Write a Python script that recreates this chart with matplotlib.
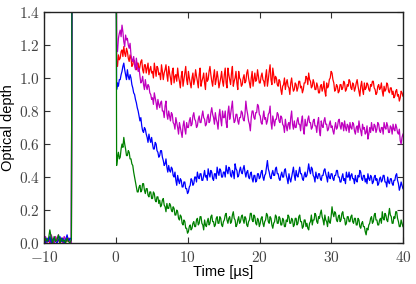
import numpy as np
import matplotlib
matplotlib.use("Agg")
import matplotlib.pyplot as plt
from matplotlib.ticker import FuncFormatter, MultipleLocator

plt.rcParams['mathtext.fontset'] = 'cm'
plt.rcParams['font.family'] = ['Liberation Sans', 'DejaVu Sans']

# time axis pieces (µs)
t_pre = [-10.0 + 0.2 * i for i in range(20)]
t_jump = [-6.05, -0.02]          # trace saturates (off scale) between these
t_post = [0.1 + 0.125 * i for i in range(320)]
HIGH = 3.0

red_pre = [0.00,0.02,0.01,0.03,0.00,0.02,0.01,0.00,0.03,0.01,0.02,0.00,0.01,0.03,0.00,0.02,0.01,0.03,0.01,0.02]
mag_pre = [0.01,0.04,0.00,0.03,0.01,0.05,0.02,0.00,0.04,0.02,0.05,0.01,0.03,0.00,0.04,0.02,0.03,0.01,0.02,0.00]
blue_pre = [0.02,0.00,0.03,0.01,0.04,0.00,0.02,0.03,0.01,0.00,0.02,0.04,0.01,0.03,0.00,0.02,0.05,0.01,0.03,0.02]
green_pre = [0.00,0.03,0.01,0.02,0.08,0.03,0.00,0.04,0.01,0.02,0.05,0.00,0.03,0.01,0.02,0.00,0.03,0.01,0.00,0.02]

red_post = [
    1.10,1.07,1.14,1.11,1.12,1.16,1.17,1.13,1.19,1.15,1.13,1.18,1.16,1.12,1.10,1.14,1.12,1.07,1.08,1.11,
    1.10,1.06,1.05,1.09,1.09,1.04,1.07,1.10,1.11,1.05,1.03,1.08,1.08,1.03,1.06,1.09,1.02,1.05,1.07,1.03,
    1.04,1.00,1.09,1.05,1.01,1.07,1.06,1.02,1.03,0.99,1.08,1.04,0.99,1.03,1.05,1.08,1.02,0.98,1.07,1.03,
    1.00,0.96,1.04,1.06,0.97,1.01,1.02,0.98,1.06,1.01,0.98,0.94,1.01,1.04,0.95,0.99,1.03,1.07,0.99,0.96,
    1.04,1.00,0.97,0.94,1.00,1.03,0.96,0.99,1.05,1.01,0.98,0.94,1.02,1.06,0.95,0.98,1.00,1.03,0.97,0.93,
    1.03,0.98,0.99,1.04,1.07,1.02,0.98,0.95,1.01,1.05,0.96,0.99,1.04,1.00,0.94,0.97,1.00,1.04,0.98,0.95,
    1.02,1.06,0.97,0.94,1.06,1.02,0.99,0.96,1.03,1.07,0.95,0.98,1.00,1.04,0.97,0.93,1.04,1.00,0.99,0.95,
    0.96,1.00,1.02,0.97,0.98,1.03,1.05,1.00,0.97,0.94,1.00,1.04,0.95,0.99,1.03,0.98,0.99,1.05,1.01,0.97,
    0.97,1.01,1.03,0.99,0.98,0.95,1.01,1.05,0.95,0.99,1.04,1.08,0.99,0.96,1.06,1.02,0.97,1.01,1.00,0.96,
    0.95,0.99,0.98,0.93,0.90,0.95,0.96,1.00,0.93,0.97,0.99,0.95,0.94,0.90,0.97,1.00,0.95,0.92,0.93,0.97,
    0.96,0.92,0.94,0.98,0.98,0.94,0.95,0.91,0.93,0.97,0.97,1.01,1.00,0.96,1.03,0.99,0.98,0.94,0.95,0.99,
    0.97,0.93,0.93,0.97,0.95,0.91,0.91,0.95,0.96,0.92,0.94,0.98,0.92,0.89,0.97,0.94,0.95,0.99,1.00,1.04,
    1.03,0.99,0.97,0.92,0.93,0.96,0.95,0.91,0.92,0.96,0.96,0.93,0.94,0.98,0.97,0.92,0.93,0.96,0.95,0.99,
    0.98,0.94,0.93,0.97,0.96,0.92,0.94,0.97,0.99,0.95,0.92,0.89,0.95,0.98,0.93,0.90,0.97,0.93,0.94,0.97,
    0.96,0.93,0.92,0.96,0.95,0.98,0.98,0.94,0.93,0.90,0.91,0.95,0.96,0.93,0.94,0.97,0.92,0.89,0.95,0.92,
    0.93,0.97,0.96,0.92,0.91,0.94,0.94,0.90,0.92,0.88,0.89,0.92,0.93,0.89,0.90,0.86,0.88,0.92,0.91,0.89]

mag_post = [
    1.20,1.16,1.24,1.27,1.29,1.25,1.32,1.28,1.22,1.19,1.26,1.23,1.24,1.20,1.18,1.21,1.14,1.11,1.10,1.13,
    1.08,1.05,1.12,1.07,1.04,1.06,1.01,0.97,0.98,1.01,0.96,0.93,0.99,0.95,0.93,0.96,0.95,0.91,0.90,0.87,
    0.88,0.84,0.91,0.88,0.85,0.81,0.87,0.84,0.82,0.85,0.86,0.80,0.80,0.76,0.83,0.86,0.78,0.75,0.80,0.77,
    0.74,0.79,0.78,0.73,0.72,0.69,0.76,0.73,0.70,0.66,0.73,0.70,0.67,0.64,0.71,0.74,0.69,0.66,0.73,0.70,
    0.70,0.74,0.76,0.71,0.72,0.77,0.79,0.75,0.74,0.70,0.71,0.75,0.77,0.73,0.73,0.77,0.80,0.76,0.75,0.71,
    0.72,0.76,0.78,0.73,0.74,0.79,0.82,0.78,0.76,0.72,0.79,0.75,0.73,0.69,0.77,0.81,0.75,0.71,0.80,0.76,
    0.76,0.80,0.73,0.70,0.79,0.83,0.75,0.78,0.82,0.86,0.77,0.73,0.74,0.78,0.78,0.74,0.72,0.76,0.76,0.80,
    0.79,0.75,0.74,0.78,0.86,0.81,0.78,0.74,0.72,0.68,0.76,0.80,0.80,0.76,0.75,0.79,0.79,0.84,0.83,0.78,
    0.77,0.73,0.72,0.76,0.80,0.75,0.76,0.72,0.74,0.78,0.79,0.83,0.73,0.69,0.77,0.74,0.71,0.75,0.75,0.79,
    0.78,0.74,0.73,0.77,0.76,0.72,0.71,0.67,0.75,0.71,0.68,0.72,0.73,0.69,0.76,0.80,0.72,0.69,0.74,0.70,
    0.70,0.74,0.76,0.72,0.72,0.68,0.74,0.77,0.69,0.66,0.75,0.71,0.71,0.75,0.77,0.73,0.73,0.69,0.70,0.74,
    0.75,0.71,0.71,0.67,0.73,0.76,0.68,0.65,0.74,0.71,0.70,0.74,0.76,0.72,0.72,0.68,0.69,0.72,0.74,0.70,
    0.71,0.68,0.66,0.70,0.73,0.69,0.70,0.74,0.75,0.71,0.69,0.73,0.72,0.68,0.74,0.70,0.68,0.72,0.71,0.67,
    0.73,0.70,0.69,0.73,0.72,0.68,0.66,0.70,0.71,0.67,0.74,0.70,0.68,0.65,0.72,0.69,0.70,0.66,0.67,0.71,
    0.63,0.66,0.70,0.67,0.73,0.69,0.68,0.72,0.71,0.67,0.69,0.73,0.72,0.68,0.67,0.70,0.70,0.66,0.73,0.70,
    0.69,0.73,0.71,0.67,0.67,0.71,0.70,0.66,0.72,0.69,0.68,0.72,0.70,0.67,0.66,0.69,0.62,0.60,0.64,0.66]

blue_post = [
    0.93,0.97,0.95,0.99,0.99,1.02,1.04,1.07,1.09,1.05,1.02,0.99,1.05,1.01,0.99,1.02,1.00,0.96,0.94,0.91,
    0.90,0.87,0.85,0.82,0.80,0.77,0.74,0.76,0.71,0.68,0.67,0.70,0.69,0.66,0.64,0.61,0.66,0.63,0.61,0.64,
    0.60,0.57,0.57,0.61,0.60,0.56,0.55,0.52,0.53,0.56,0.56,0.52,0.50,0.47,0.48,0.51,0.46,0.43,0.47,0.44,
    0.43,0.46,0.45,0.41,0.40,0.43,0.38,0.35,0.41,0.38,0.36,0.39,0.38,0.34,0.34,0.37,0.37,0.33,0.33,0.30,
    0.31,0.34,0.35,0.39,0.38,0.35,0.36,0.40,0.40,0.37,0.43,0.40,0.39,0.42,0.42,0.38,0.38,0.41,0.44,0.40,
    0.41,0.38,0.45,0.42,0.40,0.44,0.43,0.39,0.38,0.42,0.42,0.39,0.46,0.43,0.41,0.45,0.44,0.40,0.40,0.43,
    0.43,0.40,0.47,0.44,0.42,0.46,0.45,0.41,0.40,0.44,0.43,0.39,0.48,0.45,0.44,0.40,0.41,0.44,0.46,0.43,
    0.42,0.45,0.47,0.43,0.40,0.43,0.44,0.40,0.39,0.42,0.43,0.39,0.37,0.41,0.41,0.37,0.38,0.42,0.42,0.39,
    0.40,0.43,0.44,0.40,0.38,0.41,0.42,0.46,0.50,0.45,0.43,0.40,0.39,0.42,0.44,0.41,0.41,0.45,0.46,0.42,
    0.42,0.39,0.38,0.41,0.43,0.40,0.40,0.44,0.45,0.41,0.39,0.36,0.42,0.39,0.37,0.40,0.43,0.46,0.41,0.38,
    0.44,0.41,0.40,0.43,0.46,0.42,0.42,0.39,0.38,0.41,0.43,0.40,0.41,0.44,0.48,0.44,0.42,0.46,0.45,0.41,
    0.40,0.37,0.43,0.40,0.39,0.42,0.42,0.39,0.38,0.41,0.41,0.44,0.45,0.42,0.40,0.37,0.43,0.40,0.39,0.42,
    0.42,0.39,0.38,0.41,0.41,0.44,0.44,0.40,0.40,0.37,0.37,0.40,0.42,0.38,0.39,0.36,0.43,0.40,0.40,0.43,
    0.38,0.41,0.42,0.39,0.39,0.36,0.41,0.38,0.37,0.41,0.40,0.44,0.43,0.39,0.38,0.41,0.41,0.37,0.39,0.36,
    0.42,0.39,0.38,0.41,0.40,0.36,0.37,0.40,0.41,0.38,0.39,0.35,0.36,0.39,0.40,0.37,0.38,0.41,0.41,0.37,
    0.37,0.34,0.40,0.37,0.36,0.39,0.39,0.36,0.35,0.38,0.38,0.41,0.42,0.38,0.36,0.32,0.34,0.37,0.35,0.33]

green_post = [
    0.47,0.52,0.55,0.51,0.52,0.57,0.60,0.58,0.64,0.60,0.57,0.53,0.53,0.56,0.55,0.51,0.51,0.48,0.47,0.43,
    0.40,0.37,0.34,0.31,0.31,0.34,0.35,0.31,0.32,0.36,0.36,0.32,0.30,0.33,0.33,0.29,0.28,0.31,0.31,0.27,
    0.27,0.31,0.30,0.26,0.25,0.28,0.28,0.24,0.26,0.22,0.23,0.26,0.27,0.23,0.22,0.19,0.24,0.21,0.21,0.24,
    0.23,0.20,0.19,0.22,0.21,0.17,0.17,0.20,0.19,0.15,0.14,0.17,0.16,0.12,0.11,0.14,0.13,0.09,0.09,0.06,
    0.07,0.10,0.11,0.08,0.09,0.12,0.13,0.10,0.10,0.14,0.15,0.11,0.12,0.16,0.16,0.12,0.11,0.08,0.14,0.11,
    0.10,0.13,0.15,0.11,0.12,0.16,0.17,0.13,0.13,0.10,0.11,0.15,0.16,0.12,0.12,0.16,0.15,0.11,0.10,0.13,
    0.14,0.17,0.18,0.14,0.12,0.15,0.16,0.12,0.13,0.17,0.19,0.15,0.14,0.10,0.11,0.14,0.16,0.12,0.13,0.16,
    0.17,0.14,0.12,0.16,0.15,0.11,0.10,0.13,0.14,0.18,0.18,0.14,0.13,0.17,0.16,0.12,0.11,0.15,0.14,0.10,
    0.12,0.15,0.16,0.12,0.10,0.13,0.14,0.18,0.17,0.13,0.12,0.16,0.15,0.11,0.09,0.12,0.13,0.17,0.16,0.12,
    0.12,0.16,0.15,0.11,0.11,0.15,0.14,0.10,0.10,0.14,0.13,0.17,0.16,0.12,0.12,0.15,0.14,0.10,0.11,0.15,
    0.15,0.11,0.12,0.16,0.17,0.13,0.13,0.09,0.10,0.14,0.14,0.10,0.12,0.09,0.08,0.12,0.13,0.17,0.11,0.14,
    0.14,0.18,0.17,0.13,0.12,0.16,0.15,0.18,0.20,0.16,0.14,0.11,0.17,0.14,0.13,0.10,0.16,0.13,0.12,0.16,
    0.22,0.18,0.16,0.19,0.18,0.14,0.13,0.16,0.17,0.13,0.14,0.18,0.19,0.15,0.15,0.11,0.12,0.16,0.16,0.13,
    0.13,0.16,0.17,0.13,0.12,0.15,0.15,0.11,0.11,0.15,0.14,0.10,0.09,0.12,0.13,0.10,0.10,0.07,0.05,0.09,
    0.08,0.11,0.12,0.15,0.16,0.12,0.13,0.17,0.18,0.14,0.14,0.11,0.11,0.14,0.15,0.12,0.19,0.15,0.14,0.18,
    0.17,0.14,0.13,0.17,0.21,0.17,0.16,0.12,0.12,0.16,0.15,0.19,0.19,0.15,0.13,0.10,0.10,0.14,0.12,0.10]

series = [
    (red_pre, red_post, (1, 0, 0)),
    (mag_pre, mag_post, (0.75, 0, 0.75)),
    (blue_pre, blue_post, (0, 0, 1)),
    (green_pre, green_post, (0, 0.5, 0)),
]

fig = plt.figure(figsize=(4.16, 2.84), dpi=100)
ax = fig.add_axes([0.106, 0.144, 0.863, 0.814])

t_all = np.array(t_pre + t_jump + t_post)
for pre, post, col in series:
    y = np.array(pre + [HIGH, HIGH] + post)
    ax.plot(t_all, y, color=col, lw=0.9)

ax.set_xlim(-10, 40)
ax.set_ylim(0, 1.4)
ax.xaxis.set_major_locator(MultipleLocator(10))
ax.yaxis.set_major_locator(MultipleLocator(0.2))
ax.xaxis.set_major_formatter(FuncFormatter(lambda v, p: r"$%d$" % round(v)))
ax.yaxis.set_major_formatter(FuncFormatter(lambda v, p: r"$%.1f$" % v))
ax.tick_params(direction='in', top=True, right=True, length=4, width=0.8,
               labelsize=11, colors='#333333', labelcolor='#444444', pad=3)
ax.tick_params(axis='x', pad=5)
for s in ax.spines.values():
    s.set_linewidth(1.0)
    s.set_color('#222222')

ax.set_xlabel("Time [µs]", fontsize=10.5, labelpad=0)
ax.set_ylabel("Optical depth", fontsize=10.5, labelpad=3)

fig.savefig("out.png", dpi=100)
